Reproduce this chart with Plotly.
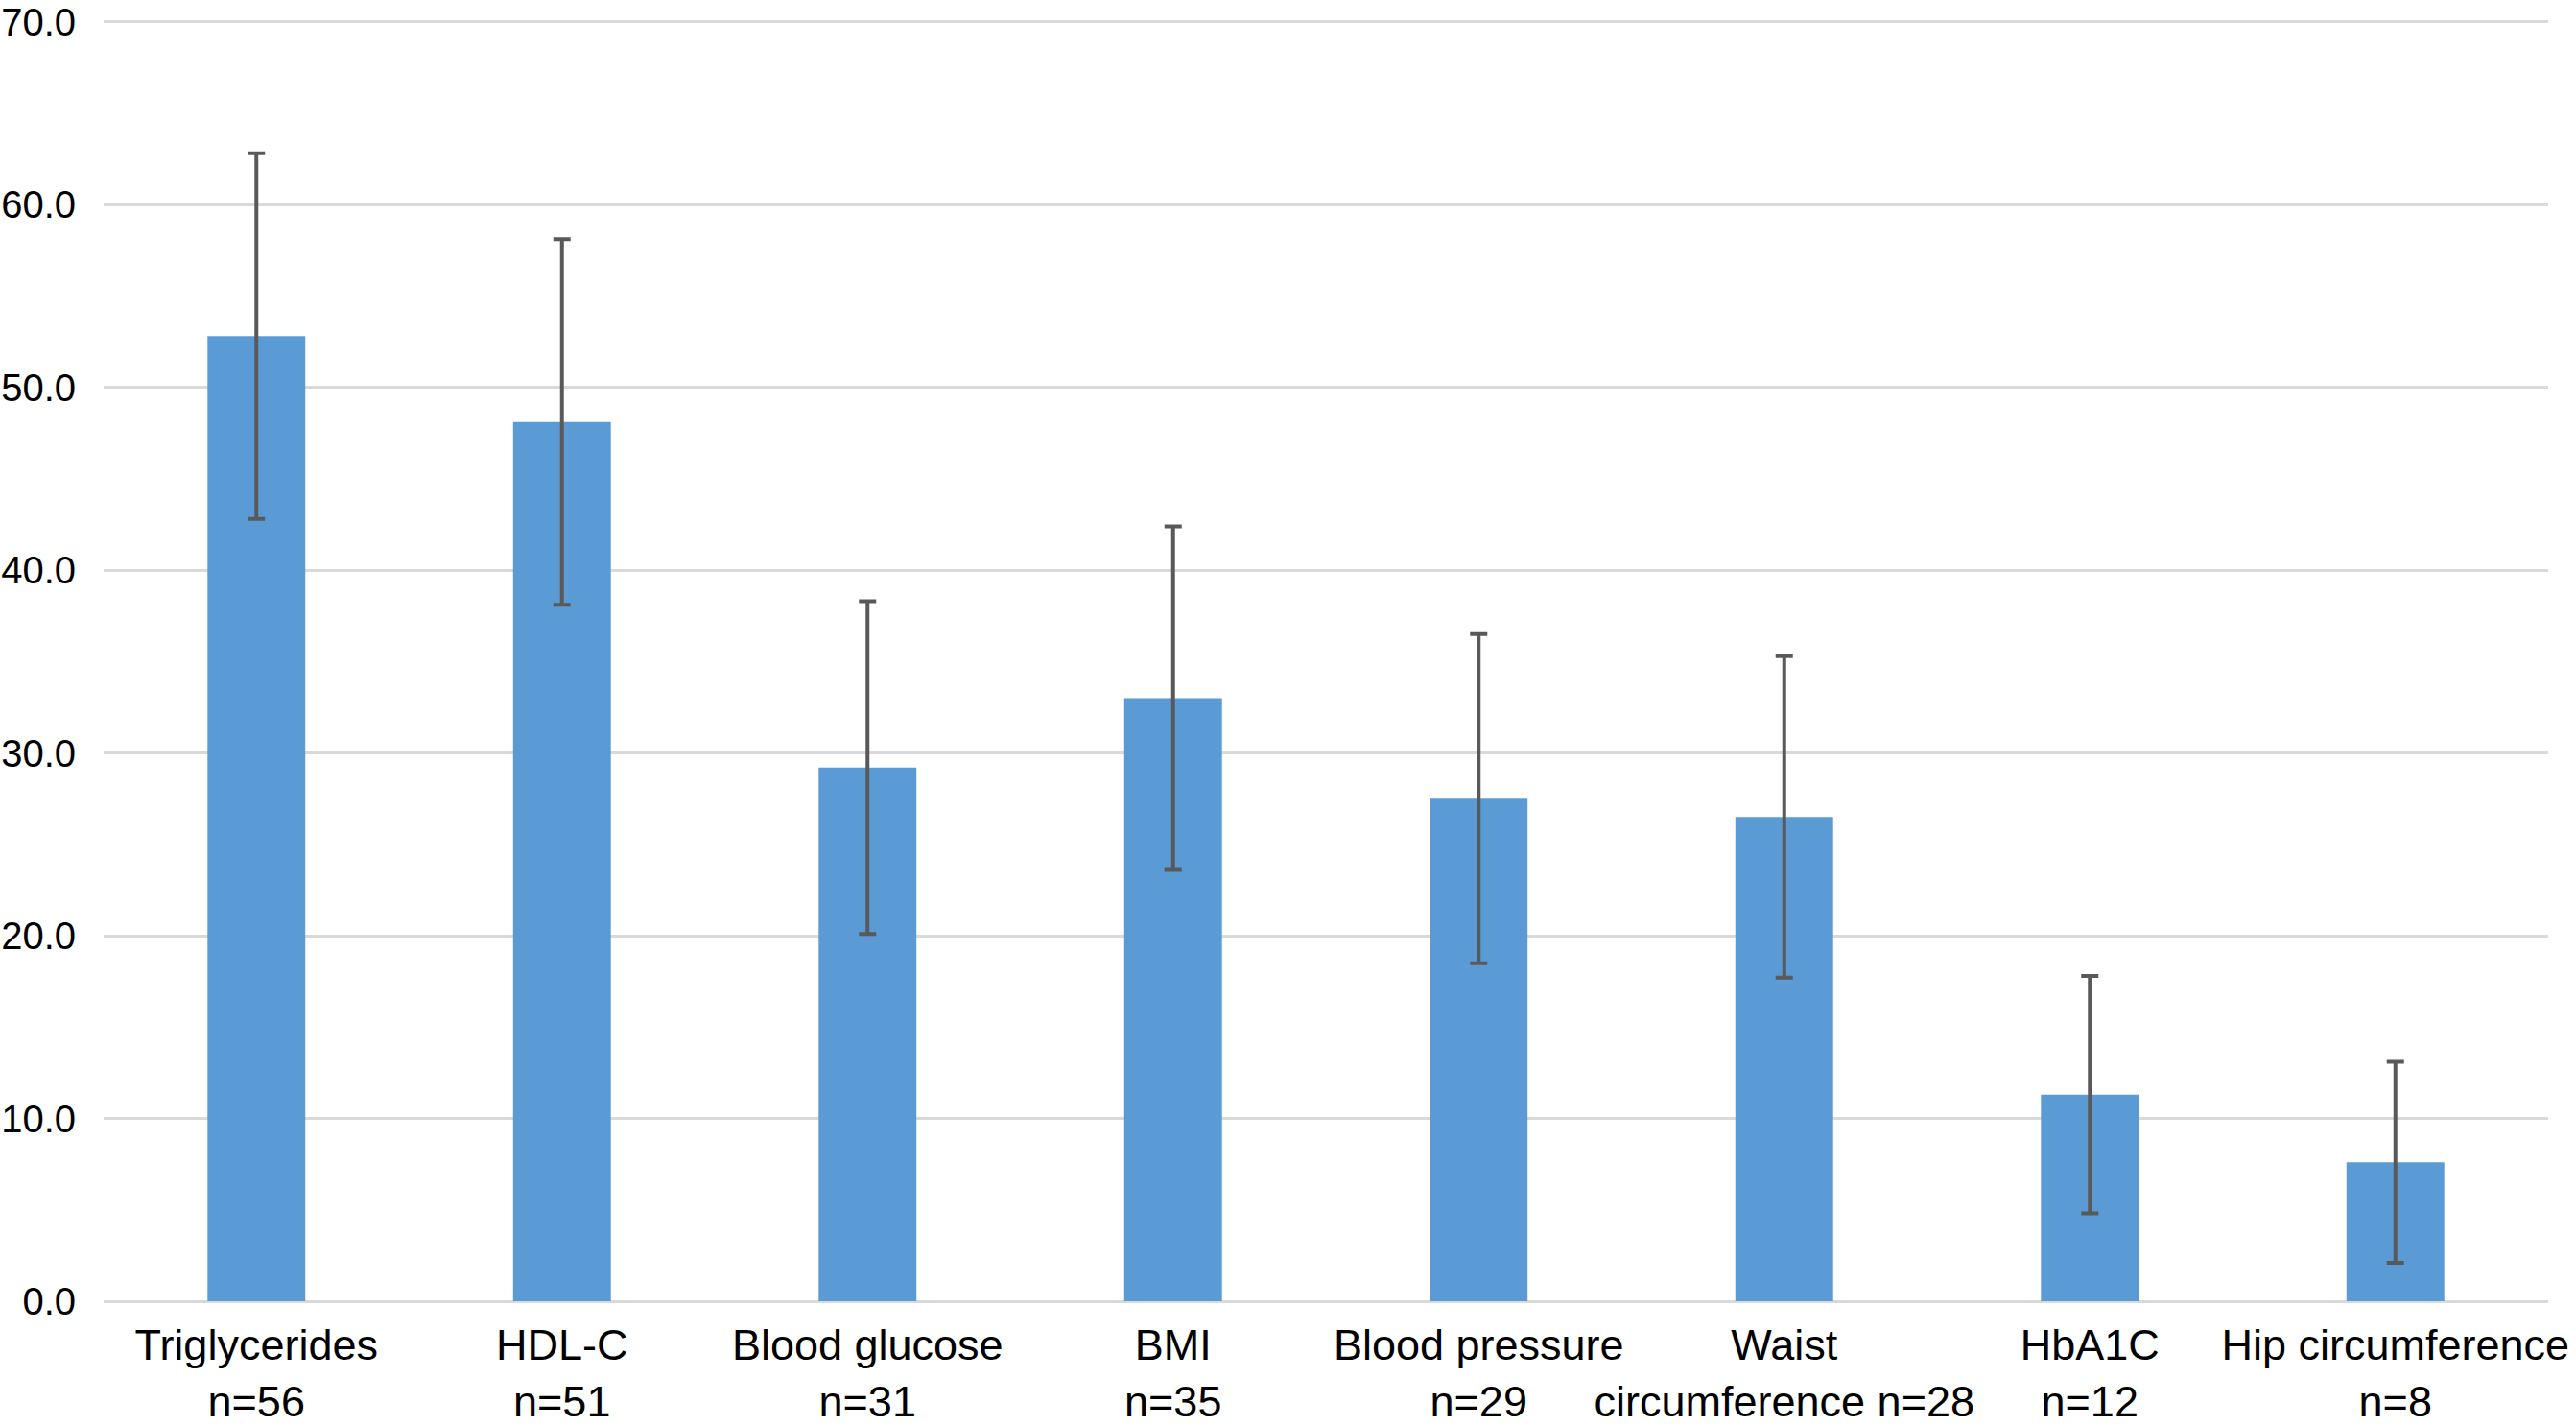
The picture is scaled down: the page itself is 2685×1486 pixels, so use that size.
import plotly.graph_objects as go

categories = [
    "Triglycerides<br>n=56",
    "HDL-C<br>n=51",
    "Blood glucose<br>n=31",
    "BMI<br>n=35",
    "Blood pressure<br>n=29",
    "Waist<br>circumference n=28",
    "HbA1C<br>n=12",
    "Hip circumference<br>n=8",
]
means = [52.8, 48.1, 29.2, 33.0, 27.5, 26.5, 11.3, 7.6]
errors = [10.0, 10.0, 9.1, 9.4, 9.0, 8.8, 6.5, 5.5]
y_ticks = [0, 10, 20, 30, 40, 50, 60, 70]

fig = go.Figure(
    go.Bar(
        x=categories,
        y=means,
        marker=dict(color="#5B9BD5", line=dict(width=0)),
        error_y=dict(type="data", array=errors, visible=True,
                     color="#595959", thickness=4, width=9),
    )
)

fig.update_layout(
    width=2685,
    height=1486,
    margin=dict(l=108, r=29, t=17, b=130),
    paper_bgcolor="white",
    plot_bgcolor="white",
    bargap=0.68,
    showlegend=False,
    font=dict(family="Liberation Sans, Arial, sans-serif", color="black"),
)
fig.update_xaxes(
    showgrid=False, showline=False, zeroline=False,
    ticks="outside", ticklen=6, tickcolor="rgba(0,0,0,0)",
    tickangle=0, automargin=False,
    tickfont=dict(size=45, color="black"),
)
fig.update_yaxes(
    range=[0, 70.3], tickvals=y_ticks, tickformat=".1f",
    showgrid=True, gridcolor="#D9D9D9", gridwidth=3,
    zeroline=True, zerolinecolor="#D9D9D9", zerolinewidth=3,
    showline=False, automargin=False,
    ticks="outside", ticklen=20, tickcolor="rgba(0,0,0,0)",
    tickfont=dict(size=40, color="black"),
)

fig.write_html(
    "out.html",
    config={"displayModeBar": False},
    post_script="document.body.style.margin='0';document.body.style.overflow='hidden';",
)
